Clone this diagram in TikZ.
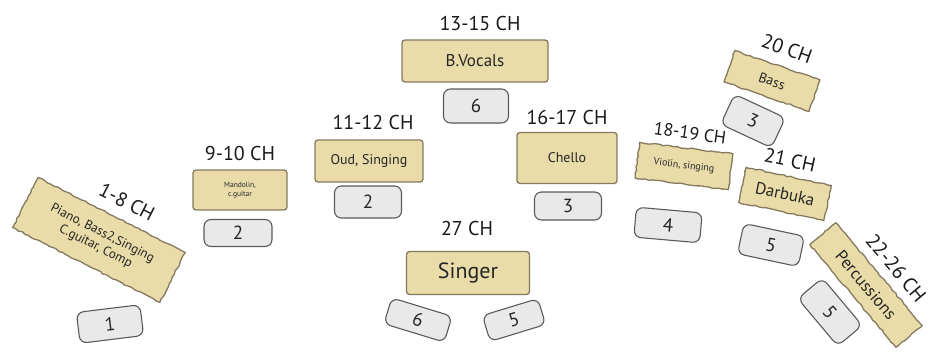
\documentclass[tikz,border=0pt]{standalone}
\usepackage{fontspec}
\setmainfont{PT Sans}
\usetikzlibrary{decorations.pathmorphing}
\definecolor{tanfill}{HTML}{E9DCA8}
\definecolor{tanedge}{HTML}{857A60}
\definecolor{tagfill}{HTML}{E9E9E9}
\definecolor{tagedge}{HTML}{5A5A5A}
\pgfmathsetseed{11}

\begin{document}
\begin{tikzpicture}[x=1pt,y=-1pt,
  chbox/.style={draw=tanedge, fill=tanfill, line width=1.3pt, rounded corners=3pt,
    inner sep=0pt, align=center, text=black!85},
  tagbox/.style={draw=tagedge, fill=tagfill, line width=1.1pt, rounded corners=7pt,
    inner sep=0pt, text=black!85, font=\fontsize{19}{19}\selectfont},
  chlabel/.style={font=\fontsize{20}{20}\selectfont, inner sep=0pt, text=black!90},
  rough/.style={sharp corners, decorate,
    decoration={random steps, segment length=3.5pt, amplitude=0.7pt}},
]
\useasboundingbox (0,0) rectangle (937,354);

% piano corner
\node[chbox, rough, rotate=-27, minimum width=165pt, minimum height=56pt,
      font=\fontsize{13}{15}\selectfont] (piano) at (99,240) {Piano, Bass2,Singing\\C.guitar, Comp};
\node[chlabel, rotate=-27] (pianoch) at (127,202) {1-8 CH};
\node[tagbox, rotate=7, minimum width=64pt, minimum height=31pt] (pianotag) at (110,324) {1};

% mandolin
\node[chbox, minimum width=94pt, minimum height=40pt,
      font=\fontsize{7.5}{9}\selectfont] (mando) at (240,190) {Mandolin,\\c.guitar};
\node[chlabel] (mandoch) at (240,153) {9-10 CH};
\node[tagbox, minimum width=68pt, minimum height=27pt] (mandotag) at (238,233) {2};

% oud
\node[chbox, minimum width=108pt, minimum height=42pt,
      font=\fontsize{14}{16}\selectfont] (oud) at (369,161) {Oud, Singing};
\node[chlabel] (oudch) at (373,122) {11-12 CH};
\node[tagbox, minimum width=67pt, minimum height=32pt] (oudtag) at (368,202) {2};

% backing vocals
\node[chbox, minimum width=146pt, minimum height=42pt,
      font=\fontsize{17}{19}\selectfont] (bvoc) at (475,61) {B.Vocals};
\node[chlabel] (bvocch) at (480,23) {13-15 CH};
\node[tagbox, minimum width=65pt, minimum height=34pt] (bvoctag) at (476,106) {6};

% cello
\node[chbox, minimum width=100pt, minimum height=51pt,
      font=\fontsize{14}{16}\selectfont] (cello) at (567,158) {Chello};
\node[chlabel] (celloch) at (567,117) {16-17 CH};
\node[tagbox, minimum width=67pt, minimum height=28pt] (cellotag) at (568,206) {3};

% violin
\node[chbox, rough, rotate=-7, minimum width=94pt, minimum height=36pt,
      font=\fontsize{10}{12}\selectfont] (violin) at (684,166) {Violin, singing};
\node[chlabel, rotate=-8, font=\fontsize{18}{18}\selectfont] (violinch) at (690,133) {18-19 CH};
\node[tagbox, rotate=-5, minimum width=66pt, minimum height=30pt] (violintag) at (668,225) {4};

% bass
\node[chbox, rough, rotate=-19, minimum width=90pt, minimum height=33pt,
      font=\fontsize{14}{16}\selectfont] (bass) at (772,81) {Bass};
\node[chlabel, rotate=-20] (bassch) at (787,49) {20 CH};
\node[tagbox, rotate=-25, minimum width=56pt, minimum height=33pt] (basstag) at (753,121) {3};

% darbuka
\node[chbox, rough, rotate=-12, minimum width=87pt, minimum height=36pt,
      font=\fontsize{17}{19}\selectfont] (darbuka) at (785,194) {Darbuka};
\node[chlabel, rotate=-12] (darbukach) at (790,160) {21 CH};
\node[tagbox, rotate=-12, minimum width=62pt, minimum height=31pt] (darbukatag) at (771,245) {5};

% percussion
\node[chbox, rough, rotate=-50, minimum width=134pt, minimum height=34pt,
      font=\fontsize{17}{19}\selectfont] (perc) at (866,285) {Percussions};
\node[chlabel, rotate=-50] (percch) at (896,268) {22-26 CH};
\node[tagbox, rotate=-50, minimum width=62pt, minimum height=32pt] (perctag) at (830,312) {5};

% lead singer
\node[chbox, minimum width=123pt, minimum height=43pt,
      font=\fontsize{22}{24}\selectfont] (singer) at (468,273) {Singer};
\node[chlabel] (singerch) at (467,228) {27 CH};
\node[tagbox, rotate=-17, minimum width=63pt, minimum height=27pt] (singertagl) at (418,320) {6};
\node[tagbox, rotate=17, minimum width=58pt, minimum height=27pt] (singertagr) at (514,320) {5};
\end{tikzpicture}
\end{document}
